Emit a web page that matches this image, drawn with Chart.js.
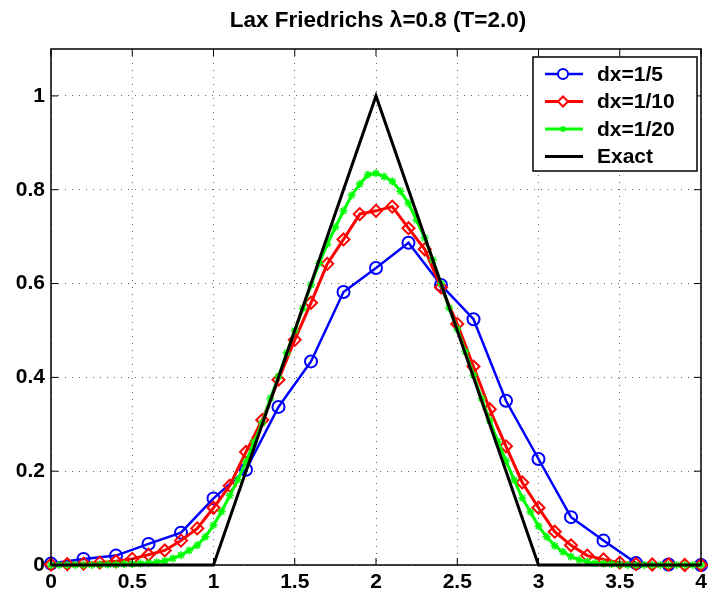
<!DOCTYPE html>
<html>
<head>
<meta charset="utf-8">
<script src="https://cdn.jsdelivr.net/npm/chart.js@4.4.0/dist/chart.umd.min.js"></script>
<style>
html,body{margin:0;padding:0;background:#fff;}
</style>
</head>
<body>
<canvas id="graph" width="709" height="594"></canvas>
<script>
// grids and values
const x_5 = [0, 0.2, 0.4, 0.6, 0.8, 1, 1.2, 1.4, 1.6, 1.8, 2, 2.2, 2.4, 2.6, 2.8, 3, 3.2, 3.4, 3.6, 3.8, 4];
const u_5 = [0.003, 0.013, 0.02, 0.045, 0.069, 0.142, 0.203, 0.337, 0.434, 0.582, 0.633,
  0.687, 0.597, 0.524, 0.35, 0.226, 0.102, 0.052, 0.004, 0.001, 0];

const x_10 = [0, 0.1, 0.2, 0.3, 0.4, 0.5, 0.6, 0.7, 0.8, 0.9, 1, 1.1, 1.2, 1.3, 1.4, 1.5, 1.6, 1.7, 1.8, 1.9,
  2, 2.1, 2.2, 2.3, 2.4, 2.5, 2.6, 2.7, 2.8, 2.9, 3, 3.1, 3.2, 3.3, 3.4, 3.5, 3.6, 3.7, 3.8, 3.9, 4];
const u_10 = [0.001, 0.002, 0.003, 0.005, 0.008, 0.013, 0.022, 0.031, 0.052, 0.078, 0.122,
  0.169, 0.241, 0.309, 0.395, 0.48, 0.559, 0.642, 0.694, 0.748, 0.755,
  0.764, 0.718, 0.673, 0.592, 0.514, 0.423, 0.332, 0.253, 0.176, 0.122,
  0.071, 0.042, 0.02, 0.012, 0.005, 0.002, 0.001, 0.001, 0, 0];

const x_20 = [0, 0.05, 0.1, 0.15, 0.2, 0.25, 0.3, 0.35, 0.4, 0.45, 0.5, 0.55, 0.6, 0.65, 0.7, 0.75,
  0.8, 0.85, 0.9, 0.95, 1, 1.05, 1.1, 1.15, 1.2, 1.25, 1.3, 1.35, 1.4, 1.45, 1.5, 1.55,
  1.6, 1.65, 1.7, 1.75, 1.8, 1.85, 1.9, 1.95, 2, 2.05, 2.1, 2.15, 2.2, 2.25, 2.3, 2.35,
  2.4, 2.45, 2.5, 2.55, 2.6, 2.65, 2.7, 2.75, 2.8, 2.85, 2.9, 2.95, 3, 3.05, 3.1, 3.15,
  3.2, 3.25, 3.3, 3.35, 3.4, 3.45, 3.5, 3.55, 3.6, 3.65, 3.7, 3.75, 3.8, 3.85, 3.9, 3.95, 4];
const u_20 = [0, 0, 0, 0, 0, 0, 0.001, 0.001, 0.001, 0.002, 0.002, 0.003, 0.004, 0.006, 0.009, 0.014,
  0.021, 0.031, 0.042, 0.06, 0.085, 0.114, 0.148, 0.182, 0.22, 0.262, 0.303, 0.355, 0.402, 0.452, 0.5, 0.547,
  0.597, 0.643, 0.684, 0.72, 0.755, 0.788, 0.812, 0.832, 0.835, 0.828, 0.818, 0.797, 0.771, 0.735, 0.697, 0.65,
  0.6, 0.548, 0.503, 0.455, 0.405, 0.355, 0.308, 0.263, 0.222, 0.181, 0.143, 0.113, 0.083, 0.06, 0.041, 0.028,
  0.018, 0.011, 0.007, 0.004, 0.003, 0.002, 0.001, 0, 0, 0, 0, 0, 0, 0, 0, 0, 0];

const x_exact = [0, 1, 2, 3, 4];
const u_exact = [0, 0, 1, 0, 0];

const x_ticks = [0, 0.5, 1, 1.5, 2, 2.5, 3, 3.5, 4];
const y_ticks = [0, 0.2, 0.4, 0.6, 0.8, 1];
const labels = ["dx=1/5", "dx=1/10", "dx=1/20", "Exact"];
const title_text = "Lax Friedrichs \u03bb=0.8 (T=2.0)";

const pts = (xs, ys) => xs.map((x, i) => ({ x: x, y: ys[i] }));
const FONT = "'Liberation Sans', Arial, sans-serif";

// matlab style box, inward ticks, title and legend
const frame = {
  id: "frame",
  beforeDraw(chart) {
    const ctx = chart.ctx;
    ctx.save();
    ctx.fillStyle = "#fff";
    ctx.fillRect(0, 0, chart.width, chart.height);
    ctx.restore();
  },
  afterDraw(chart) {
    const { ctx, chartArea: a, scales } = chart;
    ctx.save();
    ctx.strokeStyle = "#000";
    ctx.lineWidth = 1.5;
    ctx.strokeRect(a.left, a.top, a.right - a.left, a.bottom - a.top);
    ctx.beginPath();
    scales.x.ticks.forEach((t) => {
      const p = scales.x.getPixelForValue(t.value);
      ctx.moveTo(p, a.bottom); ctx.lineTo(p, a.bottom - 7);
      ctx.moveTo(p, a.top); ctx.lineTo(p, a.top + 7);
    });
    scales.y.ticks.forEach((t) => {
      const p = scales.y.getPixelForValue(t.value);
      ctx.moveTo(a.left, p); ctx.lineTo(a.left + 7, p);
      ctx.moveTo(a.right, p); ctx.lineTo(a.right - 7, p);
    });
    ctx.lineWidth = 1;
    ctx.stroke();

    // title
    ctx.fillStyle = "#000";
    ctx.font = "bold 22.5px " + FONT;
    ctx.textAlign = "center";
    ctx.textBaseline = "middle";
    ctx.fillText(title_text, (a.left + a.right) / 2 + 2, 21);

    // legend
    const bx = 533, by = 57, bw = 164, bh = 114;
    ctx.fillStyle = "#fff";
    ctx.fillRect(bx, by, bw, bh);
    ctx.strokeStyle = "#000";
    ctx.lineWidth = 1.5;
    ctx.strokeRect(bx, by, bw, bh);
    ctx.font = "bold 21px " + FONT;
    ctx.textAlign = "left";
    chart.data.datasets.forEach((ds, i) => {
      const yy = by + 17 + i * 27.5;
      ctx.strokeStyle = ds.borderColor;
      ctx.lineWidth = ds.borderWidth;
      ctx.beginPath();
      ctx.moveTo(bx + 12, yy);
      ctx.lineTo(bx + 50, yy);
      ctx.stroke();
      if (ds.pointRadius > 0) {
        ctx.fillStyle = "#fff";
        ctx.strokeStyle = ds.pointBorderColor;
        ctx.lineWidth = ds.pointBorderWidth;
        Chart.helpers.drawPoint(ctx, { pointStyle: ds.pointStyle, rotation: 0, radius: ds.pointRadius - 1, borderWidth: ds.pointBorderWidth }, bx + 30, yy);
      }
      ctx.fillStyle = "#000";
      ctx.fillText(ds.label, bx + 64, yy + 1);
    });
    ctx.restore();
  },
};

let config = {
  type: "scatter",
  data: {
    datasets: [
      {
        label: labels[0],
        data: pts(x_5, u_5),
        showLine: true,
        borderColor: "#0000ff",
        borderWidth: 2.5,
        pointStyle: "circle",
        pointRadius: 6,
        pointBackgroundColor: "rgba(0,0,0,0)",
        pointBorderColor: "#0000ff",
        pointBorderWidth: 2,
        clip: 10,
        order: 3,
      },
      {
        label: labels[1],
        data: pts(x_10, u_10),
        showLine: true,
        borderColor: "#ff0000",
        borderWidth: 3,
        pointStyle: "rectRot",
        pointRadius: 6,
        pointBackgroundColor: "rgba(0,0,0,0)",
        pointBorderColor: "#ff0000",
        pointBorderWidth: 2,
        clip: 10,
        order: 2,
      },
      {
        label: labels[2],
        data: pts(x_20, u_20),
        showLine: true,
        borderColor: "#00ff00",
        borderWidth: 3,
        pointStyle: "star",
        pointRadius: 4,
        pointBackgroundColor: "rgba(0,0,0,0)",
        pointBorderColor: "#00ff00",
        pointBorderWidth: 1.5,
        clip: 10,
        order: 1,
      },
      {
        label: labels[3],
        data: pts(x_exact, u_exact),
        showLine: true,
        borderColor: "#000000",
        borderWidth: 3,
        pointRadius: 0,
        clip: 10,
        order: 0,
      },
    ],
  },
  options: {
    responsive: false,
    animation: false,
    layout: { padding: { top: 49, right: 4, left: 0, bottom: 0 } },
    plugins: { legend: { display: false }, title: { display: false }, tooltip: { enabled: false } },
    scales: {
      x: {
        type: "linear",
        min: 0,
        max: 4,
        afterBuildTicks: (s) => { s.ticks = x_ticks.map((v) => ({ value: v })); },
        afterFit: (s) => { s.height = 29; s.paddingLeft = 0; s.paddingRight = 0; },
        ticks: {
          autoSkip: false,
          maxRotation: 0,
          padding: 5,
          color: "#000",
          font: { family: FONT, size: 21, weight: "bold" },
          callback: (v) => String(v),
        },
        grid: { color: "#666", lineWidth: 1, drawTicks: false },
        border: { display: false, dash: [1, 6] },
      },
      y: {
        type: "linear",
        min: 0,
        max: 1.1,
        afterBuildTicks: (s) => { s.ticks = y_ticks.map((v) => ({ value: v })); },
        afterFit: (s) => { s.width = 51; s.paddingTop = 0; s.paddingBottom = 0; },
        ticks: {
          autoSkip: false,
          padding: 6,
          color: "#000",
          font: { family: FONT, size: 21, weight: "bold" },
          callback: (v) => String(v),
        },
        grid: { color: "#666", lineWidth: 1, drawTicks: false },
        border: { display: false, dash: [1, 6] },
      },
    },
  },
  plugins: [frame],
};

window.onload = () => {
  new Chart(document.getElementById("graph"), config);
};
</script>
</body>
</html>
